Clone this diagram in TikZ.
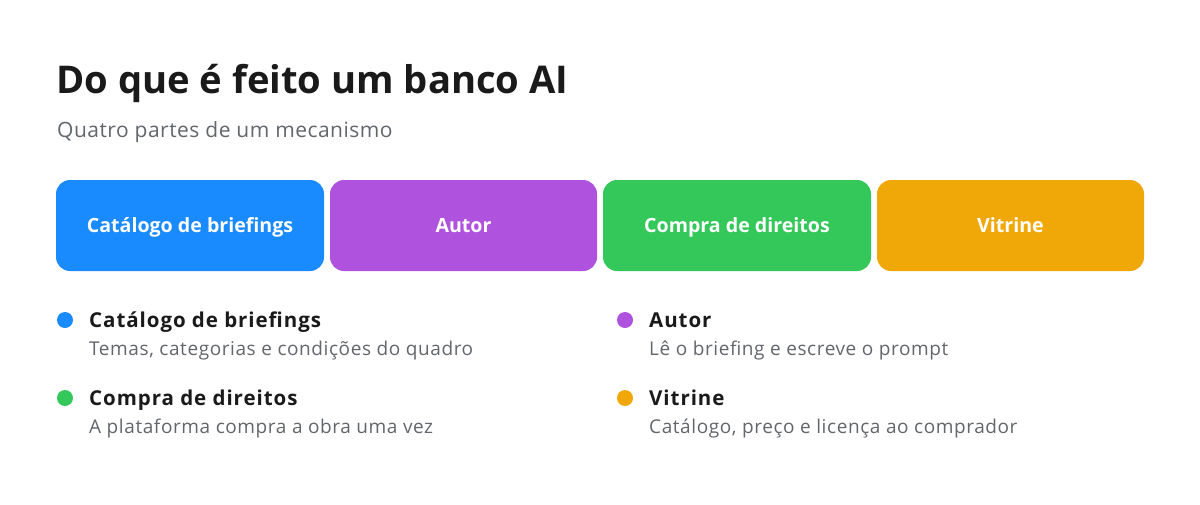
\documentclass[tikz,border=0pt]{standalone}
\usepackage{fontspec}
\setmainfont{Open Sans}
\newfontfamily\boxfont{Open Sans}
\definecolor{cblue}{HTML}{1A8AFF}
\definecolor{cpurple}{HTML}{AF52DE}
\definecolor{cgreen}{HTML}{34C759}
\definecolor{corange}{HTML}{F0A808}
\definecolor{ctitle}{HTML}{1A1A1A}
\definecolor{cgray}{HTML}{63666A}
\begin{document}
\begin{tikzpicture}[x=1pt,y=-1pt,
  part/.style={fill=#1, rounded corners=14pt, draw=none},
  parttext/.style={text=white, font=\boxfont\bfseries\fontsize{19.6}{23}\selectfont, anchor=base, inner sep=0pt},
  dot/.style={circle, fill=#1, minimum size=16pt, inner sep=0pt},
  legtitle/.style={anchor=base west, inner sep=0pt, text=ctitle, font=\bfseries\fontsize{20.5}{24}\selectfont\addfontfeatures{LetterSpace=4.6}},
  legdesc/.style={anchor=base west, inner sep=0pt, text=cgray, font=\fontsize{19}{22}\selectfont\addfontfeatures{LetterSpace=3.1}}]
\useasboundingbox[fill=white] (0,0) rectangle (1200,504);
\node[anchor=base west, inner sep=0pt, text=ctitle, font=\bfseries\fontsize{38.2}{46}\selectfont] (title) at (56,93) {Do que é feito um banco AI};
\node[anchor=base west, inner sep=0pt, text=cgray, font=\fontsize{21}{24}\selectfont\addfontfeatures{LetterSpace=2.3}] (sub) at (57,137) {Quatro partes de um mecanismo};
% boxes
\path[part=cblue] (56,180) rectangle (324,271);
\node[parttext] (b1) at (190,232) {Catálogo de briefings};
\path[part=cpurple] (330,180) rectangle (597,271);
\node[parttext] (b2) at (463.5,232) {Autor};
\path[part=cgreen] (603,180) rectangle (871,271);
\node[parttext] (b3) at (737,232) {Compra de direitos};
\path[part=corange] (877,180) rectangle (1144,271);
\node[parttext] (b4) at (1010.5,232) {Vitrine};
% legend
\node[dot=cblue] (d1) at (65,320) {};
\node[legtitle] (t1) at (89,327) {Catálogo de briefings};
\node[legdesc] (s1) at (89,355) {Temas, categorias e condições do quadro};
\node[dot=cpurple] (d2) at (625,320) {};
\node[legtitle] (t2) at (649,327) {Autor};
\node[legdesc] (s2) at (649,355) {Lê o briefing e escreve o prompt};
\node[dot=cgreen] (d3) at (65,398) {};
\node[legtitle] (t3) at (89,405) {Compra de direitos};
\node[legdesc] (s3) at (89,433) {A plataforma compra a obra uma vez};
\node[dot=corange] (d4) at (625,398) {};
\node[legtitle] (t4) at (649,405) {Vitrine};
\node[legdesc] (s4) at (649,433) {Catálogo, preço e licença ao comprador};
\end{tikzpicture}
\end{document}
